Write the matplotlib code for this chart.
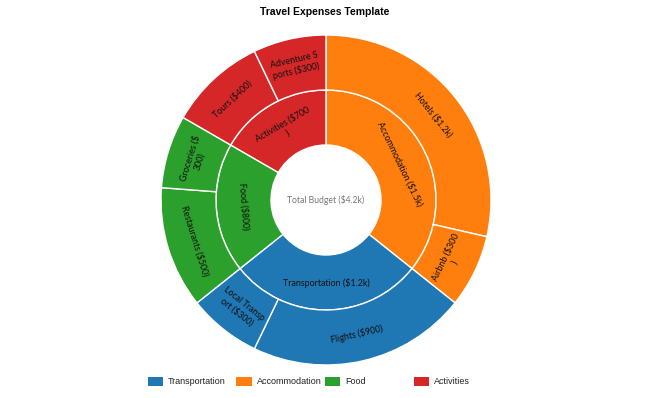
import matplotlib
matplotlib.use("Agg")
import matplotlib.pyplot as plt
import numpy as np
from matplotlib.patches import Rectangle

title = "Travel Expenses Template"
center_label = "Total Budget ($4.2k)"

categories = ["Accommodation", "Transportation", "Food", "Activities"]
category_values = [1500, 1200, 800, 700]
category_labels = ["Accommodation ($1.5k)", "Transportation ($1.2k)", "Food ($800)", "Activities ($700\n)"]

sub_values = [1200, 300, 900, 300, 500, 300, 400, 300]
sub_parent = [0, 0, 1, 1, 2, 2, 3, 3]
sub_labels = ["Hotels ($1.2k)", "Airbnb ($300\n)", "Flights ($900)", "Local Transp\nort ($300)",
              "Restaurants ($500)", "Groceries ($\n300)", "Tours ($400)", "Adventure S\nports ($300)"]

colors = {"Transportation": "#1f77b4", "Accommodation": "#ff7f0e", "Food": "#2ca02c", "Activities": "#d62728"}
legend_order = ["Transportation", "Accommodation", "Food", "Activities"]

W, H = 650, 398
fig = plt.figure(figsize=(W / 100, H / 100), dpi=100)
cx, cy, R = 326, 200, 165
half = 170
ax = fig.add_axes([(cx - half) / W, (H - cy - half) / H, 2 * half / W, 2 * half / H])
lim = half / R

inner_colors = [colors[c] for c in categories]
outer_colors = [colors[categories[p]] for p in sub_parent]

wp = dict(width=1 / 3, edgecolor="white", linewidth=1.0)
inner_w, _ = ax.pie(category_values, radius=2 / 3, colors=inner_colors, startangle=90,
                    counterclock=False, wedgeprops=wp)
outer_w, _ = ax.pie(sub_values, radius=1.0, colors=outer_colors, startangle=90,
                    counterclock=False, wedgeprops=wp)
ax.set_xlim(-lim, lim)
ax.set_ylim(-lim, lim)
ax.set_aspect("equal")
ax.axis("off")

lab_font = dict(family=["Lato", "DejaVu Sans"], fontsize=6.4, color="#111111")


def put_labels(wedges, labels, rmid):
    for w, lab in zip(wedges, labels):
        mid = (w.theta1 + w.theta2) / 2.0
        a = np.deg2rad(mid)
        rot = mid - 90
        while rot > 90:
            rot -= 180
        while rot <= -90:
            rot += 180
        ax.text(rmid * np.cos(a), rmid * np.sin(a), lab, rotation=rot, rotation_mode="anchor",
                ha="center", va="center", multialignment="center", linespacing=1.15, **lab_font)


put_labels(inner_w, category_labels, 0.5)
put_labels(outer_w, sub_labels, 5 / 6)

ax.text(0, 0, center_label, ha="center", va="center", fontsize=6.2,
        family=["Lato", "DejaVu Sans"], color="#777777")

fig.text(0.5, 1 - 12 / H, title, ha="center", va="center", fontsize=7.5,
         fontweight="bold", family=["Liberation Sans", "DejaVu Sans"])

# legend
x0, step, ly = 148, 88.5, 381
for i, name in enumerate(legend_order):
    x = x0 + i * step
    fig.add_artist(Rectangle((x / W, (H - ly - 4.5) / H), 15 / W, 9 / H,
                             transform=fig.transFigure, facecolor=colors[name], edgecolor="none"))
    fig.text((x + 20) / W, (H - ly) / H, name, ha="left", va="center", fontsize=6.5,
             family=["Liberation Sans", "DejaVu Sans"], color="#222222")

fig.savefig("out.png", dpi=100)
